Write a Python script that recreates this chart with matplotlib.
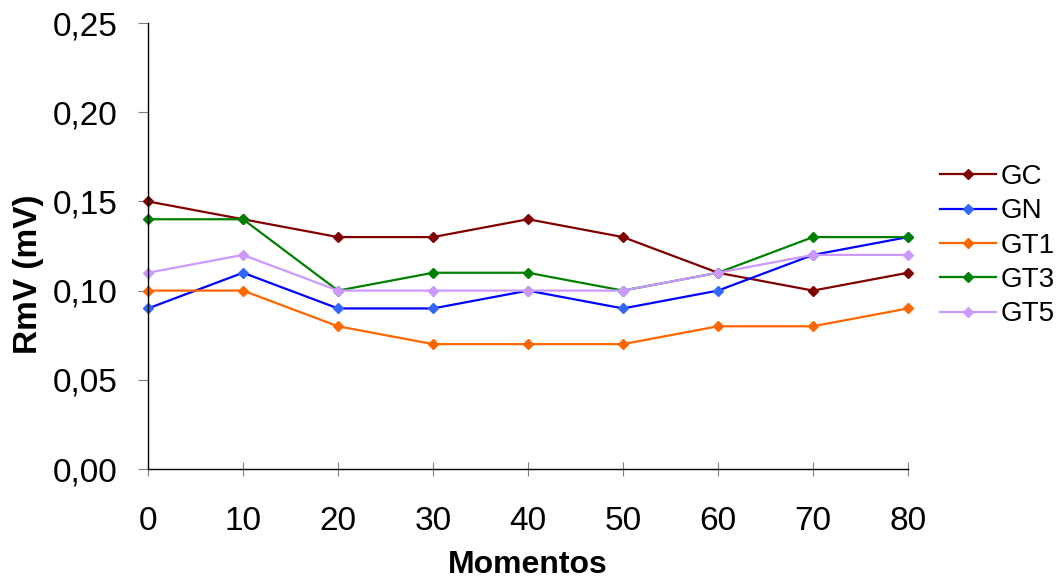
import matplotlib
matplotlib.use('Agg')
import matplotlib.pyplot as plt
from matplotlib.ticker import FuncFormatter

plt.rcParams['font.family'] = ['Liberation Sans', 'DejaVu Sans']

# Data
momentos = [0, 10, 20, 30, 40, 50, 60, 70, 80]
gc = [0.15, 0.14, 0.13, 0.13, 0.14, 0.13, 0.11, 0.10, 0.11]
gn = [0.09, 0.11, 0.09, 0.09, 0.10, 0.09, 0.10, 0.12, 0.13]
gt1 = [0.10, 0.10, 0.08, 0.07, 0.07, 0.07, 0.08, 0.08, 0.09]
gt3 = [0.14, 0.14, 0.10, 0.11, 0.11, 0.10, 0.11, 0.13, 0.13]
gt5 = [0.11, 0.12, 0.10, 0.10, 0.10, 0.10, 0.11, 0.12, 0.12]

series = [
    ('GC', gc, '#800000', '#800000'),
    ('GN', gn, '#0000FF', '#3366FF'),
    ('GT1', gt1, '#FF6600', '#FF6600'),
    ('GT3', gt3, '#008000', '#008000'),
    ('GT5', gt5, '#CC99FF', '#CC99FF'),
]

fig = plt.figure(figsize=(10.6, 5.79), dpi=100)
ax = fig.add_axes([148 / 1060, 1 - 469 / 579, 760 / 1060, 446 / 579])

for name, vals, col, mcol in series:
    ax.plot(momentos, vals, color=col, linewidth=1.6, marker='D', markersize=5,
            markerfacecolor=mcol, markeredgecolor=mcol, label=name, clip_on=False)

ax.set_xlim(0, 80)
ax.set_ylim(0, 0.25)
ax.set_xticks(momentos)
ax.set_yticks([0, 0.05, 0.10, 0.15, 0.20, 0.25])
ax.yaxis.set_major_formatter(FuncFormatter(lambda v, p: f'{v:.2f}'.replace('.', ',')))

for s in ['top', 'right']:
    ax.spines[s].set_visible(False)
for s in ['left', 'bottom']:
    ax.spines[s].set_color('black')
    ax.spines[s].set_linewidth(1.0)

ax.tick_params(axis='y', direction='out', length=7, width=0.8, color='#808080',
               labelsize=24, pad=15)
ax.tick_params(axis='x', direction='inout', length=10, width=0.8, color='#808080',
               labelsize=24, pad=22)

ax.set_xlabel('Momentos', fontsize=23, fontweight='bold')
ax.set_ylabel('RmV (mV)', fontsize=24, fontweight='bold')
ax.xaxis.set_label_coords(0.5, -0.181)
ax.yaxis.set_label_coords(-0.137, 0.437)

fig.legend(loc='upper left', bbox_to_anchor=(940 / 1060, 1 - 164 / 579),
           frameon=False, fontsize=20, handlelength=2.0, handletextpad=0.2,
           labelspacing=0.3, borderaxespad=0, borderpad=0)

fig.savefig('out.png', dpi=100)
